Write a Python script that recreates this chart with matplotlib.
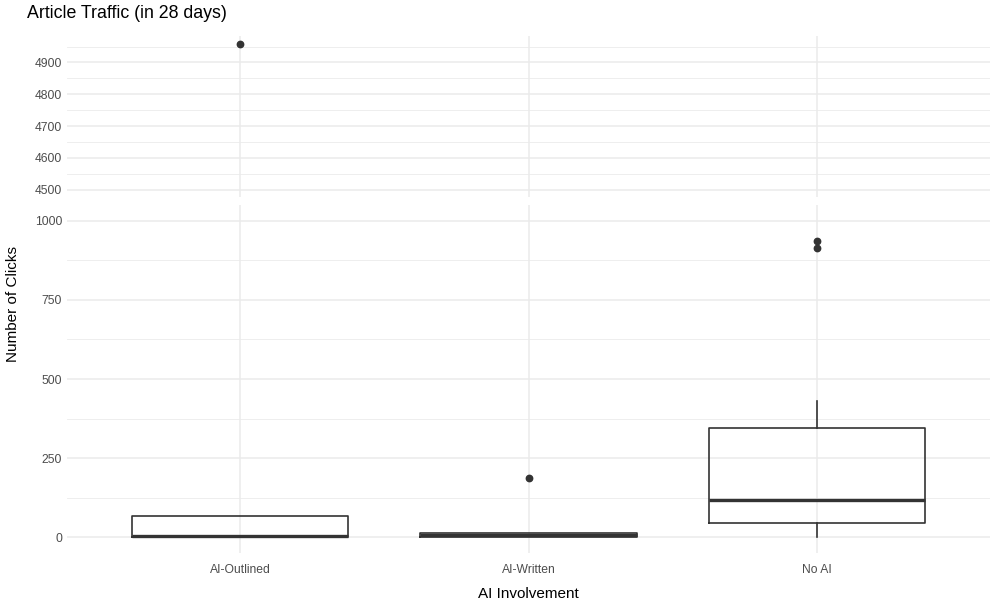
import numpy as np
import matplotlib.pyplot as plt

# box statistics (clicks)
categories = ["AI-Outlined", "AI-Written", "No AI"]
q1 = [0, 1, 44]
med = [3, 7, 116]
q3 = [66, 14, 345]
whislo = [0, 0, 1]
whishi = [66, 14, 431]
fliers = [[4958], [188], [913, 935]]

plt.rcParams['font.family'] = ['Liberation Sans', 'DejaVu Sans']
grid_col = "#EBEBEB"
ink = "#333333"

fig = plt.figure(figsize=(10, 6.07), dpi=100)
ax_top = fig.add_axes([0.067, 1 - 197 / 607, 0.923, 161 / 607])
ax_bot = fig.add_axes([0.067, 1 - 553 / 607, 0.923, 348 / 607])

stats = []
for i, c in enumerate(categories):
    stats.append(dict(label=c, q1=q1[i], med=med[i], q3=q3[i],
                      whislo=whislo[i], whishi=whishi[i], fliers=fliers[i]))

for ax in (ax_top, ax_bot):
    ax.bxp(stats, positions=[1, 2, 3], widths=0.75, showcaps=False,
           boxprops=dict(color=ink, linewidth=1.2),
           medianprops=dict(color=ink, linewidth=2.4),
           whiskerprops=dict(color=ink, linewidth=1.2),
           flierprops=dict(marker='o', markerfacecolor=ink, markeredgecolor=ink,
                           markersize=4.6),
           zorder=3)
    ax.set_xlim(0.4, 3.6)
    for s in ax.spines.values():
        s.set_visible(False)
    ax.tick_params(length=0, labelsize=8.7, labelcolor="#4D4D4D")
    ax.set_axisbelow(True)
    ax.grid(True, which='major', color=grid_col, linewidth=1.1)
    ax.grid(True, which='minor', axis='y', color=grid_col, linewidth=0.6)

ax_top.set_ylim(4477, 4983)
ax_top.set_yticks([4500, 4600, 4700, 4800, 4900])
ax_top.set_yticks([4550, 4650, 4750, 4850, 4950], minor=True)
ax_top.tick_params(axis='y', which='minor', length=0)
ax_top.set_xticks([1, 2, 3])
ax_top.set_xticklabels([])

ax_bot.set_ylim(-50, 1050)
ax_bot.set_yticks([0, 250, 500, 750, 1000])
ax_bot.set_yticks([125, 375, 625, 875], minor=True)
ax_bot.tick_params(axis='y', which='minor', length=0)
ax_bot.set_xticks([1, 2, 3])
ax_bot.set_xticklabels(categories)
ax_bot.tick_params(axis='x', pad=8)
ax_bot.set_xlabel("AI Involvement", fontsize=11, labelpad=8)

fig.text(0.027, 1 - 13 / 607, "Article Traffic (in 28 days)", fontsize=12.8,
         ha='left', va='center')
fig.text(0.013, 1 - 304 / 607, "Number of Clicks", fontsize=11, rotation=90,
         ha='center', va='center')

fig.savefig("out.png", dpi=100, facecolor='white')
